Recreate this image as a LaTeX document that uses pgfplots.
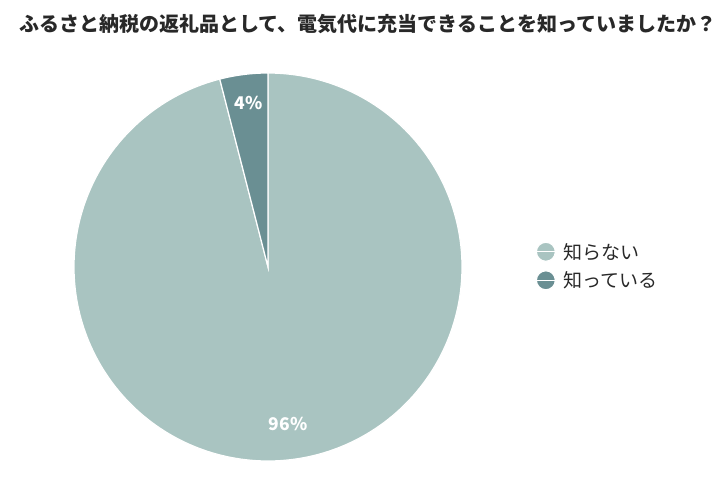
\documentclass[border=0pt]{standalone}
\usepackage{fontspec}
\setmainfont{Noto Sans CJK JP}
\usepackage{pgfplots}
\pgfplotsset{compat=1.18}
\definecolor{lightc}{RGB}{169,196,193}
\definecolor{darkc}{RGB}{106,143,147}
\definecolor{titlec}{RGB}{40,40,40}
\begin{document}
\begin{tikzpicture}[x=1pt,y=1pt]
\path (0,0) rectangle (727,477);
% values (percent)
\def\vNo{96}
\def\vYes{4}
\pgfmathsetmacro\angB{90+3.6*\vYes}
\pgfmathsetmacro\angE{\angB+3.6*\vNo}
\begin{axis}[
  hide axis, clip=false,
  x=194pt, y=194pt,
  xmin=-1, xmax=1, ymin=-1, ymax=1,
  at={(268pt,210pt)}, anchor=origin,
  legend style={at={(axis cs:1.361,0.005)}, anchor=west, draw=none, fill=none,
    font=\fontsize{19}{21}\selectfont\color{titlec}, row sep=7pt,
    legend cell align=left},
  legend image code/.code={\fill[#1] (10pt,0) circle (9.5pt); \path (0,0) -- (25pt,0);},
]
\addplot[fill=lightc, draw=white, line width=1.2pt, domain=\angB:\angE, samples=240, variable=\t]
  ({cos(\t)},{sin(\t)}) -- (axis cs:0,0) -- cycle;
\addlegendentry{知らない}
\addplot[fill=darkc, draw=white, line width=1.2pt, domain=90:\angB, samples=20, variable=\t]
  ({cos(\t)},{sin(\t)}) -- (axis cs:0,0) -- cycle;
\addlegendentry{知っている}
\node[text=white, font=\bfseries\fontsize{17.5}{20}\selectfont] at (axis cs:-0.1,0.845) {4\%};
\node[text=white, font=\bfseries\fontsize{17.5}{20}\selectfont] at (axis cs:0.103,-0.809) {96\%};
\end{axis}
\node[font=\bfseries\fontsize{20}{24}\selectfont, text=titlec] at (367.5,453) {ふるさと納税の返礼品として、電気代に充当できることを知っていましたか？};
\end{tikzpicture}
\end{document}
